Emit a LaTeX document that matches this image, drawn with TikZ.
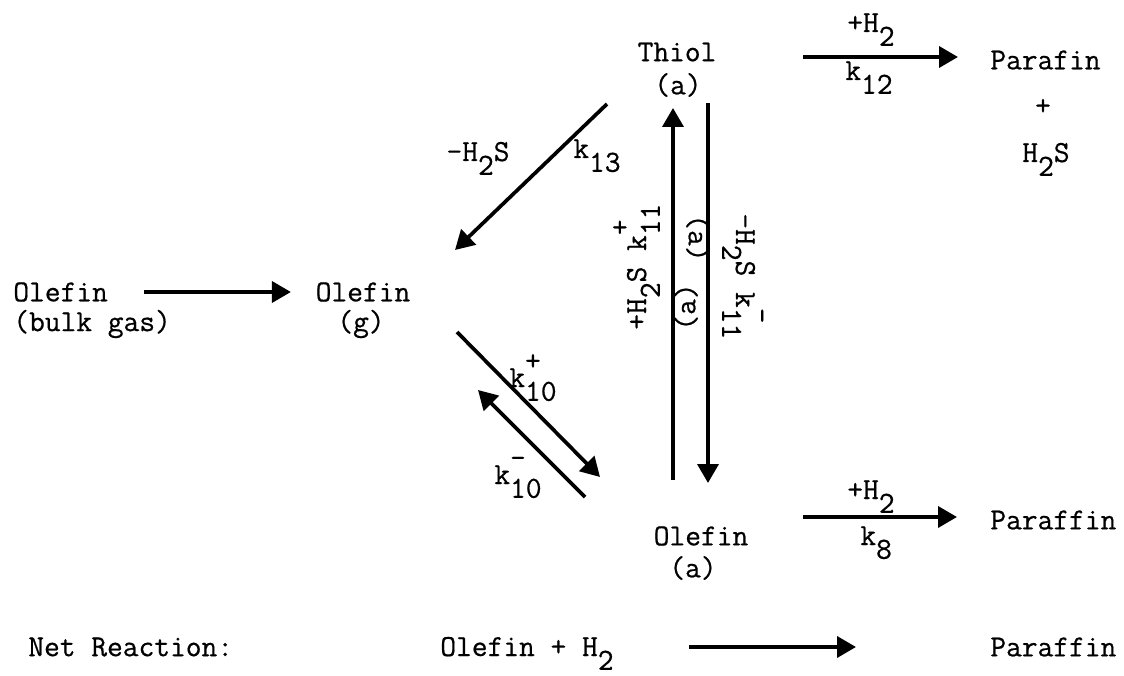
\documentclass[tikz,border=0pt]{standalone}
\usepackage{fontspec}
\usetikzlibrary{arrows.meta,positioning}
\newfontfamily\tw{Latin Modern Mono}[FakeBold=0.6]
\newcommand{\lo}[1]{\raisebox{-0.45em}{#1}}
\newcommand{\kk}[2]{k\rlap{\raisebox{0.55em}{#2}}\lo{#1}}
\tikzset{
  >={Triangle[length=3.8mm,width=4.2mm]},
  txt/.style={font=\tw\fontsize{17.4}{19}\selectfont,inner sep=0pt},
  rxn/.style={->,line width=2.1pt},
}

\begin{document}
\begin{tikzpicture}[every node/.style={txt}]
    \useasboundingbox (0,0) rectangle (22.48,13.5);
    % species
    \node[anchor=west] (ob) at (0.26,7.66) {Olefin};
    \node[anchor=west] (obg) at (0.26,7.02) {(bulk gas)};
    \node (og) at (7.26,7.66) {Olefin};
    \node (ogg) at (7.22,7.02) {(g)};
    \node (th) at (13.54,12.46) {Thiol};
    \node (tha) at (13.56,11.8) {(a)};
    \node (oa) at (14.02,2.78) {Olefin};
    \node (oaa) at (13.86,2.14) {(a)};
    \node[anchor=west] (pf) at (19.8,12.3) {Parafin};
    \node (pl) at (20.86,11.36) {+};
    \node[anchor=base west] (hs) at (20.44,10.26) {H\lo{2}S};
    \node[anchor=west] (pa) at (19.8,3.1) {Paraffin};
    % arrow ends
    \coordinate (u1) at (13.46,3.9);  \coordinate (u2) at (13.46,11.34);
    \coordinate (d1) at (14.16,11.44); \coordinate (d2) at (14.16,3.84);
    \coordinate (a1) at (12.14,11.42); \coordinate (a2) at (9.10,8.5);
    \coordinate (b1) at (9.14,6.86);  \coordinate (b2) at (12.0,3.96);
    \coordinate (c1) at (11.7,3.56);  \coordinate (c2) at (9.56,5.7);
    \coordinate (e1) at (16.06,12.36); \coordinate (e2) at (19.16,12.36);
    \coordinate (f1) at (16.06,3.16); \coordinate (f2) at (19.14,3.16);
    % reactions
    \draw[rxn] ([xshift=7.2mm]ob.east) -- ([xshift=-4.9mm]og.west);
    \draw[rxn] (u1) -- (u2);
    \draw[rxn] (d1) -- (d2);
    \draw[rxn] (a1) -- (a2);
    \draw[rxn] (b1) -- (b2);
    \draw[rxn] (c1) -- (c2);
    \draw[rxn] (e1) -- (e2);
    \draw[rxn] (f1) -- (f2);
    % rate labels
    \node[anchor=base] (l13) at (9.56,10.28) {-H\lo{2}S};
    \node[anchor=base west] (k13) at (11.46,10.34) {k\lo{13}};
    \node[anchor=base west] (k10p) at (10.18,5.76) {\kk{10}{+}};
    \node[anchor=base west] (k10m) at (9.88,3.82) {\kk{10}{-}};
    \node[anchor=base west] (h12) at (16.94,12.86) {+H\lo{2}};
    \node[anchor=base west] (k12) at (16.9,11.9) {k\lo{12}};
    \node[anchor=base west] (h8) at (16.94,3.52) {+H\lo{2}};
    \node[anchor=base west] (k8) at (17.2,2.6) {k\lo{8}};
    \node[anchor=base west,rotate=90] (k11p) at (12.92,6.9) {+H\lo{2}S \kk{11}{+}};
    \node[anchor=base west,rotate=-90] (k11m) at (14.72,9.24) {-H\lo{2}S \kk{11}{-}};
    \node[rotate=90] (s1) at (13.72,7.36) {(a)};
    \node[rotate=-90] (s2) at (13.96,8.74) {(a)};
    % net reaction
    \node[anchor=west] (net) at (0.56,0.56) {Net Reaction:};
    \node[anchor=base west] (nl) at (8.8,0.38) {Olefin + H\lo{2}};
    \node[anchor=west] (nr) at (19.8,0.56) {Paraffin};
    \draw[rxn] ([xshift=15mm]nl.east |- nr.west) -- ([xshift=-26.8mm]nr.west);
\end{tikzpicture}
\end{document}
